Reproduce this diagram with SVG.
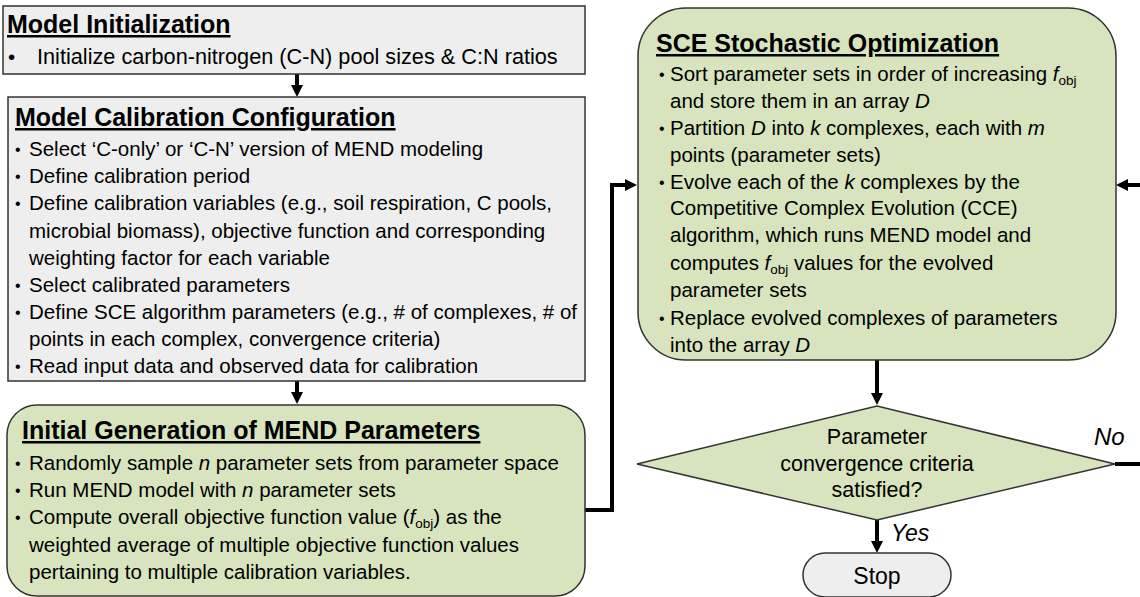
<svg xmlns="http://www.w3.org/2000/svg" width="1140" height="597" viewBox="0 0 1140 597">
<style>
text{font-family:"Liberation Sans",Arial,sans-serif;fill:#000}
.t{font-size:25px;font-weight:bold;text-decoration:underline}
.b{font-size:20.5px}
.c{font-size:21.5px;text-anchor:middle}
.i{font-style:italic}
.s{font-size:13.5px}
.d{font-size:16px}
.gray{fill:#eeeeee;stroke:#333;stroke-width:1.5}
.green{fill:#d7e4bd;stroke:#333;stroke-width:1.5}
.conn{fill:none;stroke:#000;stroke-width:4}
</style>
<defs>
<marker id="ah" markerUnits="userSpaceOnUse" markerWidth="12" markerHeight="12" refX="8" refY="6" orient="auto">
<path d="M0,0 L12,6 L0,12 z" fill="#000"/>
</marker>
</defs>
<g id="connectors">
<path class="conn" d="M297,74 V93" marker-end="url(#ah)"/>
<path class="conn" d="M297,381 V400" marker-end="url(#ah)"/>
<path class="conn" d="M585,510 H612 V185 H633" marker-end="url(#ah)"/>
<path class="conn" d="M877,360 V401" marker-end="url(#ah)"/>
<path class="conn" d="M877,520 V549" marker-end="url(#ah)"/>
<path class="conn" d="M1115,464 H1150 V185 H1120" marker-end="url(#ah)"/>
<text class="i" x="1094" y="445" style="font-size:24px">No</text>
<text class="i" x="891" y="541" style="font-size:23px">Yes</text>
</g>
<g id="model-init">
<rect class="gray" x="3" y="6" width="582" height="68"/>
<text class="t" x="7" y="33">Model Initialization</text>
<text class="b" x="8" y="64">•</text>
<text class="b" x="37" y="64" style="font-size:21.7px">Initialize carbon-nitrogen (C-N) pool sizes &amp; C:N ratios</text>
</g>
<g id="calib-config">
<rect class="gray" x="8" y="97" width="577" height="284"/>
<text class="t" x="15" y="126">Model Calibration Configuration</text>
<text class="d" x="15" y="155">•</text><text class="b" x="29" y="156">Select ‘C-only’ or ‘C-N’ version of MEND modeling</text>
<text class="d" x="15" y="182">•</text><text class="b" x="29" y="183">Define calibration period</text>
<text class="d" x="15" y="209">•</text><text class="b" x="29" y="210">Define calibration variables (e.g., soil respiration, C pools,</text>
<text class="b" x="29" y="238">microbial biomass), objective function and corresponding</text>
<text class="b" x="29" y="265">weighting factor for each variable</text>
<text class="d" x="15" y="291">•</text><text class="b" x="29" y="292">Select calibrated parameters</text>
<text class="d" x="15" y="318">•</text><text class="b" x="29" y="319">Define SCE algorithm parameters (e.g., # of complexes, # of</text>
<text class="b" x="29" y="346">points in each complex, convergence criteria)</text>
<text class="d" x="15" y="372">•</text><text class="b" x="29" y="373">Read input data and observed data for calibration</text>
</g>
<g id="initial-gen">
<rect class="green" x="7" y="405" width="578" height="191" rx="30"/>
<text class="t" x="22" y="439">Initial Generation of MEND Parameters</text>
<text class="d" x="15" y="469">•</text><text class="b" x="29" y="470">Randomly sample <tspan class="i">n</tspan> parameter sets from parameter space</text>
<text class="d" x="15" y="496">•</text><text class="b" x="29" y="497">Run MEND model with <tspan class="i">n</tspan> parameter sets</text>
<text class="d" x="15" y="523">•</text><text class="b" x="29" y="524">Compute overall objective function value (<tspan class="i">f</tspan><tspan class="s" dy="4">obj</tspan><tspan dy="-4">) as the</tspan></text>
<text class="b" x="29" y="552">weighted average of multiple objective function values</text>
<text class="b" x="29" y="579">pertaining to multiple calibration variables.</text>
</g>
<g id="sce">
<rect class="green" x="638" y="8" width="478" height="352" rx="48"/>
<text class="t" x="656" y="52">SCE Stochastic Optimization</text>
<text class="d" x="659" y="80">•</text><text class="b" x="670" y="81">Sort parameter sets in order of increasing <tspan class="i">f</tspan><tspan class="s" dy="4">obj</tspan></text>
<text class="b" x="670" y="108">and store them in an array <tspan class="i">D</tspan></text>
<text class="d" x="659" y="134">•</text><text class="b" x="670" y="135">Partition <tspan class="i">D</tspan> into <tspan class="i">k</tspan> complexes, each with <tspan class="i">m</tspan></text>
<text class="b" x="670" y="162">points (parameter sets)</text>
<text class="d" x="659" y="188">•</text><text class="b" x="670" y="189">Evolve each of the <tspan class="i">k</tspan> complexes by the</text>
<text class="b" x="670" y="215">Competitive Complex Evolution (CCE)</text>
<text class="b" x="670" y="242">algorithm, which runs MEND model and</text>
<text class="b" x="670" y="270">computes <tspan class="i">f</tspan><tspan class="s" dy="4">obj</tspan><tspan dy="-4"> values for the evolved</tspan></text>
<text class="b" x="670" y="297">parameter sets</text>
<text class="d" x="659" y="324">•</text><text class="b" x="670" y="325">Replace evolved complexes of parameters</text>
<text class="b" x="670" y="352">into the array <tspan class="i">D</tspan></text>
</g>
<g id="decision">
<polygon class="green" points="637,464 877,406 1115,464 877,520"/>
<text class="c" x="877" y="444">Parameter</text>
<text class="c" x="877" y="471">convergence criteria</text>
<text class="c" x="877" y="497">satisfied?</text>
</g>
<g id="stop">
<rect class="gray" x="803" y="553" width="148" height="44" rx="22"/>
<text class="c" x="877" y="584" style="font-size:23px">Stop</text>
</g>
</svg>
